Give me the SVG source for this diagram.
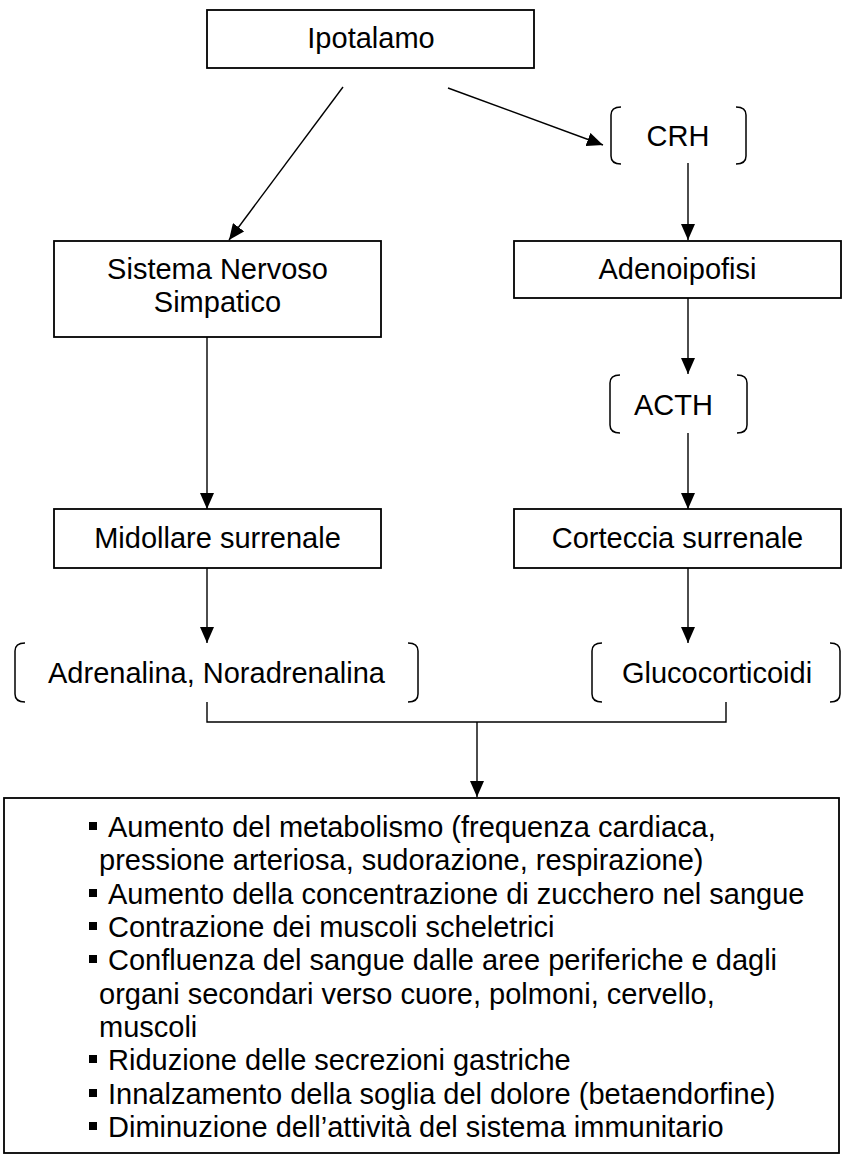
<svg xmlns="http://www.w3.org/2000/svg" width="842" height="1158" viewBox="0 0 842 1158">
<style>
text{font-family:"Liberation Sans",Arial,sans-serif;font-size:29px;fill:#000}
.box{fill:#fff;stroke:#000;stroke-width:1.8}
.br{fill:none;stroke:#000;stroke-width:1.5}
.ln{fill:none;stroke:#000;stroke-width:1.4}
.c{text-anchor:middle}
</style>
<defs>
<marker id="ah" markerWidth="16" markerHeight="14" refX="16" refY="7" orient="auto" markerUnits="userSpaceOnUse">
<path d="M0,0 L16,7 L0,14 Z" fill="#000"/>
</marker>
</defs>
<rect width="842" height="1158" fill="#fff"/>
<g id="connectors">
<line class="ln" x1="343" y1="87" x2="229" y2="240" marker-end="url(#ah)"/>
<line class="ln" x1="448" y1="88" x2="603" y2="145" marker-end="url(#ah)"/>
<line class="ln" x1="688" y1="163" x2="688" y2="240" marker-end="url(#ah)"/>
<line class="ln" x1="688" y1="298" x2="688" y2="374" marker-end="url(#ah)"/>
<line class="ln" x1="688" y1="433" x2="688" y2="509" marker-end="url(#ah)"/>
<line class="ln" x1="688" y1="568" x2="688" y2="643" marker-end="url(#ah)"/>
<line class="ln" x1="207" y1="337" x2="207" y2="509" marker-end="url(#ah)"/>
<line class="ln" x1="207" y1="568" x2="207" y2="643" marker-end="url(#ah)"/>
<path class="ln" d="M207,702 V722 H726 V702"/>
<line class="ln" x1="477" y1="722" x2="477" y2="797" marker-end="url(#ah)"/>
</g>
<g id="ipotalamo">
<rect class="box" x="207" y="10" width="327" height="58"/>
<text class="c" x="371" y="48">Ipotalamo</text>
</g>
<g id="crh">
<path class="br" d="M621,107 Q611,107 611,115 V156 Q611,164 621,164 M736,107 Q746,107 746,115 V156 Q746,164 736,164"/>
<text class="c" x="678" y="146">CRH</text>
</g>
<g id="sistema">
<rect class="box" x="54" y="241" width="327" height="96"/>
<text class="c" x="217.5" y="279">Sistema Nervoso</text>
<text class="c" x="217.5" y="312">Simpatico</text>
</g>
<g id="adenoipofisi">
<rect class="box" x="514" y="241" width="327" height="57"/>
<text class="c" x="677.5" y="279">Adenoipofisi</text>
</g>
<g id="acth">
<path class="br" d="M620,375 Q610,375 610,383 V425 Q610,433 620,433 M737,375 Q747,375 747,383 V425 Q747,433 737,433"/>
<text x="634" y="415">ACTH</text>
</g>
<g id="midollare">
<rect class="box" x="54" y="509" width="327" height="59"/>
<text class="c" x="217.5" y="548">Midollare surrenale</text>
</g>
<g id="corteccia">
<rect class="box" x="514" y="509" width="327" height="59"/>
<text class="c" x="677.5" y="548">Corteccia surrenale</text>
</g>
<g id="adrenalina">
<path class="br" d="M25,643 Q15,643 15,651 V694 Q15,702 25,702 M408,643 Q418,643 418,651 V694 Q418,702 408,702"/>
<text class="c" x="216.5" y="683">Adrenalina, Noradrenalina</text>
</g>
<g id="glucocorticoidi">
<path class="br" d="M602,643 Q592,643 592,651 V694 Q592,702 602,702 M830,643 Q840,643 840,651 V694 Q840,702 830,702"/>
<text class="c" x="717" y="683">Glucocorticoidi</text>
</g>
<g id="effetti">
<rect class="box" x="4" y="798" width="835" height="355"/>
<g fill="#000">
<rect x="89" y="822" width="8" height="8"/>
<rect x="89" y="889" width="8" height="8"/>
<rect x="89" y="922" width="8" height="8"/>
<rect x="89" y="955" width="8" height="8"/>
<rect x="89" y="1055" width="8" height="8"/>
<rect x="89" y="1089" width="8" height="8"/>
<rect x="89" y="1122" width="8" height="8"/>
</g>
<text x="108" y="837">Aumento del metabolismo (frequenza cardiaca,</text>
<text x="99" y="870">pressione arteriosa, sudorazione, respirazione)</text>
<text x="108" y="904">Aumento della concentrazione di zucchero nel sangue</text>
<text x="108" y="937">Contrazione dei muscoli scheletrici</text>
<text x="108" y="970">Confluenza del sangue dalle aree periferiche e dagli</text>
<text x="99" y="1004">organi secondari verso cuore, polmoni, cervello,</text>
<text x="99" y="1037">muscoli</text>
<text x="108" y="1070">Riduzione delle secrezioni gastriche</text>
<text x="108" y="1104">Innalzamento della soglia del dolore (betaendorfine)</text>
<text x="108" y="1137">Diminuzione dell’attività del sistema immunitario</text>
</g>
</svg>
